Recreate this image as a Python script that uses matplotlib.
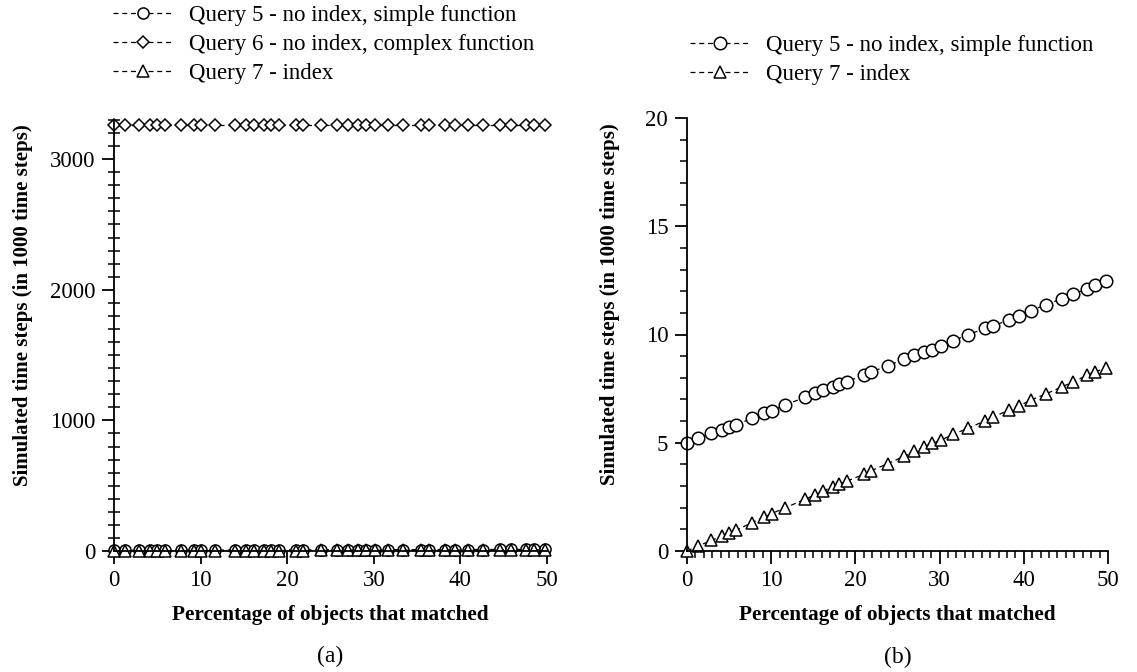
"""
Simulated time steps vs percentage of matched objects, panels (a) and (b).
"""

import matplotlib
matplotlib.use("Agg")
import matplotlib.pyplot as plt
from matplotlib.ticker import MultipleLocator

plt.rcParams["font.family"] = ["Liberation Serif", "DejaVu Serif"]

# Percentage of objects that matched (shared by all series).
pct = [0, 1.25, 2.9, 4.1, 5.0, 5.85, 7.7, 9.2, 10.05, 11.65, 14.0, 15.2,
       16.2, 17.3, 18.1, 19.0, 21.05, 21.8, 23.9, 25.8, 27.0, 28.15, 29.15,
       30.15, 31.65, 33.35, 35.4, 36.4, 38.25, 39.4, 40.9, 42.6, 44.55,
       45.9, 47.55, 48.5, 49.75]

# Query 5 - no index, simple function (1000 time steps).
q5 = [5.0, 5.2, 5.43, 5.59, 5.71, 5.83, 6.13, 6.36, 6.48, 6.74, 7.10, 7.28,
      7.44, 7.59, 7.72, 7.82, 8.13, 8.26, 8.56, 8.86, 9.04, 9.17, 9.29,
      9.48, 9.72, 9.98, 10.29, 10.4, 10.68, 10.85, 11.1, 11.38, 11.65,
      11.88, 12.1, 12.3, 12.47]

# Query 6 - no index, complex function (1000 time steps).
q6 = [3262] * len(pct)

# Query 7 - index (1000 time steps).
q7 = [0, 0.22, 0.49, 0.68, 0.85, 0.96, 1.31, 1.57, 1.73, 1.99, 2.39, 2.59,
      2.78, 2.96, 3.09, 3.23, 3.55, 3.70, 4.04, 4.38, 4.60, 4.81, 4.97,
      5.12, 5.40, 5.66, 6.02, 6.20, 6.51, 6.70, 6.98, 7.25, 7.59, 7.81,
      8.13, 8.29, 8.44]

labels = ["Query 5 - no index, simple function",
          "Query 6 - no index, complex function",
          "Query 7 - index"]

W, H = 1137, 672
fig = plt.figure(figsize=(W / 100, H / 100), dpi=100)

ax1 = fig.add_axes([114 / W, 1 - 551 / H, 433 / W, 431 / H])
ax2 = fig.add_axes([687 / W, 1 - 551 / H, 421 / W, 433 / H])

style = dict(color="black", linestyle=(0, (4, 3)), linewidth=0.9,
             markerfacecolor="white", markeredgecolor="black",
             markeredgewidth=1.1, clip_on=False)

# Panel (a): all three queries.
ax1.plot(pct, q5, marker="o", markersize=8, label=labels[0], **style)
ax1.plot(pct, q6, marker="D", markersize=6.5, label=labels[1], **style)
ax1.plot(pct, q7, marker="^", markersize=8.5, label=labels[2], **style)

# Panel (b): queries 5 and 7 only.
ax2.plot(pct, q5, marker="o", markersize=9, label=labels[0], **style)
ax2.plot(pct, q7, marker="^", markersize=9, label=labels[2], **style)

ax1.set_xlim(0, 50)
ax1.set_ylim(0, 3300)
ax1.xaxis.set_major_locator(MultipleLocator(10))
ax1.yaxis.set_major_locator(MultipleLocator(1000))
ax1.yaxis.set_minor_locator(MultipleLocator(100))

ax2.set_xlim(0, 50)
ax2.set_ylim(0, 20)
ax2.xaxis.set_major_locator(MultipleLocator(10))
ax2.xaxis.set_minor_locator(MultipleLocator(1))
ax2.yaxis.set_major_locator(MultipleLocator(5))
ax2.yaxis.set_minor_locator(MultipleLocator(1))

for ax, tag in ((ax1, "(a)"), (ax2, "(b)")):
    for side in ("top", "right"):
        ax.spines[side].set_visible(False)
    for side in ("left", "bottom"):
        ax.spines[side].set_linewidth(1.3)
    ax.tick_params(which="major", direction="out", length=9, width=1.3,
                   labelsize=16.5, pad=4.5)
    ax.tick_params(which="minor", direction="out", length=5, width=1.1)
    ax.set_xlabel("Percentage of objects that matched", fontsize=15.3,
                  fontweight="bold")
    ax.set_ylabel("Simulated time steps (in 1000 time steps)", fontsize=15,
                  fontweight="bold")
    ax.xaxis.set_label_coords(0.5, -0.125)
    ax.text(0.5, -0.245, tag, transform=ax.transAxes, fontsize=17,
            ha="center", va="center")

ax1.tick_params(axis="y", which="minor", direction="inout", length=8)
ax1.yaxis.set_label_coords(-0.186, 0.57)
ax2.yaxis.set_label_coords(-0.158, 0.57)

leg_kw = dict(loc="upper left", frameon=False, fontsize=16.5, borderpad=0,
              borderaxespad=0, handlelength=2.6, handletextpad=0.7,
              labelspacing=0.35, numpoints=1)
h1, l1 = ax1.get_legend_handles_labels()
fig.legend(h1, l1, bbox_to_anchor=(113 / W, 1 - 5 / H), **leg_kw)
h2, l2 = ax2.get_legend_handles_labels()
fig.legend(h2, l2, bbox_to_anchor=(690 / W, 1 - 35 / H), **leg_kw)

fig.savefig("out.png", dpi=100)
